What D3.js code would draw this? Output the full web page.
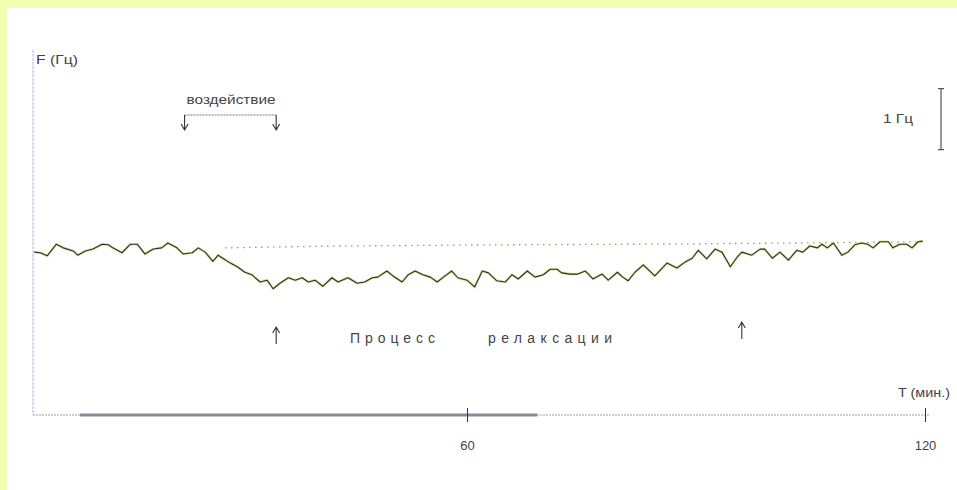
<!DOCTYPE html>
<html>
<head>
<meta charset="utf-8">
<script src="https://cdn.jsdelivr.net/npm/d3@7"></script>
<style>
  body { margin: 0; background: #f0ffb0; }
  svg { display: block; }
</style>
</head>
<body>
<div id="chart"></div>
<script>
// time, minutes
const timeMin = [3.3, 4.1, 5.0, 6.2, 7.1, 8.4, 9.0, 10.0, 11.0, 12.2, 13.0, 13.6, 14.8, 15.9, 16.8, 17.8,
  18.9, 20.0, 20.8, 22.0, 22.8, 24.0, 24.8, 25.7, 26.7, 27.4, 28.0, 29.0, 29.9, 30.9, 31.8, 32.9,
  33.8, 34.6, 35.5, 36.6, 37.5, 38.4, 39.2, 40.1, 41.1, 42.3, 43.1, 44.4, 45.6, 46.6, 47.6, 48.3,
  49.5, 50.3, 51.5, 52.3, 53.2, 54.2, 55.2, 56.1, 56.9, 58.0, 58.8, 60.0, 61.0, 62.0, 62.8, 63.9,
  65.0, 65.9, 66.7, 67.9, 68.9, 70.0, 70.9, 71.8, 72.4, 73.5, 74.5, 75.5, 76.5, 77.7, 78.5, 79.7,
  80.4, 81.1, 82.0, 83.1, 84.6, 86.2, 87.5, 88.6, 89.5, 90.3, 91.4, 92.5, 93.4, 94.5, 95.4, 96.0,
  97.3, 98.4, 99.0, 100.0, 101.0, 102.1, 103.2, 104.0, 104.9, 105.9, 106.5, 107.2, 108.0, 109.1,
  109.9, 110.8, 111.7, 112.5, 113.2, 114.1, 115.2, 115.8, 116.7, 117.6, 118.3, 119.1, 119.7];

// frequency, Hz
const freqHz = [2.67, 2.66, 2.61, 2.80, 2.74, 2.69, 2.62, 2.69, 2.72, 2.80, 2.79, 2.74, 2.66, 2.80, 2.80, 2.64,
  2.72, 2.74, 2.82, 2.74, 2.64, 2.66, 2.74, 2.67, 2.52, 2.62, 2.57, 2.49, 2.43, 2.34, 2.30, 2.18,
  2.21, 2.07, 2.16, 2.25, 2.21, 2.25, 2.18, 2.21, 2.11, 2.25, 2.18, 2.25, 2.16, 2.18, 2.25, 2.26,
  2.36, 2.28, 2.18, 2.30, 2.36, 2.30, 2.26, 2.18, 2.26, 2.36, 2.25, 2.21, 2.10, 2.36, 2.33, 2.20,
  2.18, 2.30, 2.23, 2.36, 2.26, 2.30, 2.39, 2.39, 2.33, 2.31, 2.31, 2.36, 2.23, 2.31, 2.21, 2.34,
  2.26, 2.20, 2.34, 2.46, 2.28, 2.49, 2.41, 2.51, 2.57, 2.70, 2.56, 2.72, 2.67, 2.43, 2.59, 2.67,
  2.62, 2.72, 2.72, 2.57, 2.67, 2.54, 2.70, 2.67, 2.77, 2.74, 2.80, 2.74, 2.82, 2.62,
  2.67, 2.79, 2.82, 2.80, 2.74, 2.84, 2.84, 2.74, 2.80, 2.80, 2.74, 2.84, 2.85];

// dotted reference level (no impact)
const trendTime = [28.3, 42.7, 64.3, 82.7, 103.6, 120];
const trendHz = [2.74, 2.77, 2.79, 2.80, 2.82, 2.84];

const xTicks = [60, 120];
const impactStart = 23, impactEnd = 35, relaxEnd = 96;
const thickFrom = 9.3, thickTo = 69.2;
const scaleBarHz = [4.35, 5.35];

const width = 957, height = 490;
const svg = d3.select("#chart").append("svg")
  .attr("width", width)
  .attr("height", height)
  .style("font-family", "'Liberation Sans', Arial, sans-serif");

svg.append("rect").attr("width", width).attr("height", height).attr("fill", "#f0ffb0");
svg.append("rect").attr("x", 7).attr("y", 8).attr("width", width - 7).attr("height", height - 8).attr("fill", "#fff");

const x = d3.scaleLinear().domain([3.14, 120]).range([33, 925]);
const y = d3.scaleLinear().domain([0, 6]).range([415, 49]);

// y axis
svg.append("line")
  .attr("x1", x(3.14)).attr("x2", x(3.14))
  .attr("y1", 50).attr("y2", y(0))
  .attr("stroke", "#b4b4dc").attr("stroke-dasharray", "3,1");

// x axis line
svg.append("line")
  .attr("x1", x(3.14)).attr("x2", 930)
  .attr("y1", y(0)).attr("y2", y(0))
  .attr("stroke", "#9a9aa8").attr("stroke-dasharray", "2,1");
svg.append("line")
  .attr("x1", x(thickFrom)).attr("x2", x(thickTo))
  .attr("y1", y(0)).attr("y2", y(0))
  .attr("stroke", "#8a8a94").attr("stroke-width", 3);

const xAxis = svg.append("g")
  .attr("transform", "translate(0," + y(0) + ")")
  .call(d3.axisBottom(x).tickValues(xTicks).tickSize(7).tickFormat(d3.format("d")));
xAxis.select(".domain").remove();
xAxis.selectAll(".tick line").attr("y1", -7).attr("y2", 7).attr("stroke", "#333");
xAxis.selectAll(".tick text")
  .attr("y", 35).attr("dy", null)
  .attr("fill", "#444")
  .style("font-size", "13px")
  .style("font-family", "'Liberation Sans', Arial, sans-serif");

svg.append("text")
  .attr("x", 898).attr("y", 397)
  .attr("textLength", 52).attr("lengthAdjust", "spacingAndGlyphs")
  .attr("fill", "#444").style("font-size", "12px")
  .text("T (мин.)");

svg.append("text")
  .attr("x", 36).attr("y", 64)
  .attr("textLength", 42).attr("lengthAdjust", "spacingAndGlyphs")
  .attr("fill", "#444").style("font-size", "12px")
  .text("F (Гц)");

// trend (dotted)
const pts = timeMin.map((t, i) => [t, freqHz[i]]);
const trend = trendTime.map((t, i) => [t, trendHz[i]]);
const line = d3.line().x(d => x(d[0])).y(d => y(d[1]));

svg.append("path")
  .datum(trend)
  .attr("d", line)
  .attr("fill", "none")
  .attr("stroke", "#9c9c6a")
  .attr("stroke-width", 1.3)
  .attr("stroke-dasharray", "1.5,4.5");

svg.append("path")
  .datum(pts)
  .attr("d", line)
  .attr("fill", "none")
  .attr("stroke", "#e2e2a0")
  .attr("stroke-width", 2.6);
svg.append("path")
  .datum(pts)
  .attr("d", line)
  .attr("fill", "none")
  .attr("stroke", "#2e2e2e")
  .attr("stroke-width", 1.1)
  .attr("stroke-linejoin", "round");

// impact bracket
const bx1 = x(impactStart), bx2 = x(impactEnd), by = 115;
svg.append("path")
  .attr("d", `M${bx1},${by}H${bx2}`)
  .attr("fill", "none").attr("stroke", "#777").attr("stroke-dasharray", "2,1");
[bx1, bx2].forEach(bx => {
  svg.append("path")
    .attr("d", `M${bx},${by}V${by + 15}M${bx - 3.5},${by + 9}L${bx},${by + 15}L${bx + 3.5},${by + 9}`)
    .attr("fill", "none").attr("stroke", "#333").attr("stroke-width", 1.1);
});
svg.append("text")
  .attr("x", bx1 + 2).attr("y", 104)
  .attr("textLength", 89).attr("lengthAdjust", "spacingAndGlyphs")
  .attr("fill", "#444").style("font-size", "13px")
  .text("воздействие");

// relaxation arrows
[impactEnd, relaxEnd].forEach((t, i) => {
  const ax = x(t), top = i === 0 ? 327 : 322;
  svg.append("path")
    .attr("d", `M${ax},${top + 17}V${top}M${ax - 3.5},${top + 6}L${ax},${top}L${ax + 3.5},${top + 6}`)
    .attr("fill", "none").attr("stroke", "#333").attr("stroke-width", 1.1);
});
svg.append("text")
  .attr("x", 350).attr("y", 343)
  .attr("textLength", 85).attr("lengthAdjust", "spacing")
  .attr("fill", "#444").style("font-size", "14px")
  .text("Процесс");
svg.append("text")
  .attr("x", 488).attr("y", 343)
  .attr("textLength", 124).attr("lengthAdjust", "spacing")
  .attr("fill", "#444").style("font-size", "14px")
  .text("релаксации");

// 1 Hz scale bar
const sx = 941;
svg.append("path")
  .attr("d", `M${sx},${y(scaleBarHz[0])}V${y(scaleBarHz[1])}M${sx - 3},${y(scaleBarHz[0])}H${sx + 3}M${sx - 3},${y(scaleBarHz[1])}H${sx + 3}`)
  .attr("fill", "none").attr("stroke", "#555").attr("stroke-width", 1.2);
svg.append("text")
  .attr("x", 883).attr("y", 123)
  .attr("textLength", 30).attr("lengthAdjust", "spacingAndGlyphs")
  .attr("fill", "#444").style("font-size", "12px")
  .text("1 Гц");
</script>
</body>
</html>
